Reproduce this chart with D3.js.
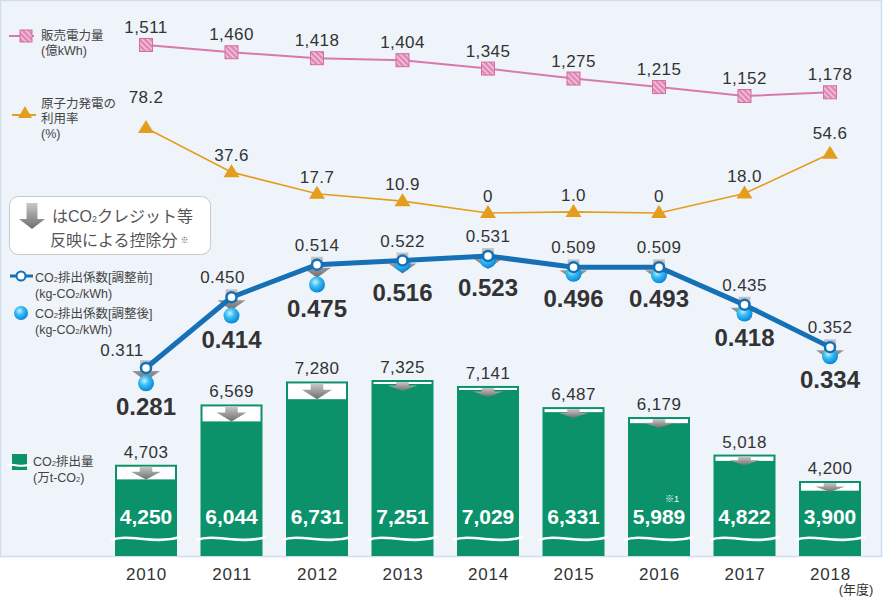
<!DOCTYPE html>
<html><head><meta charset="utf-8">
<script src="https://cdn.jsdelivr.net/npm/d3@7"></script>
<style>
body{margin:0;background:#fff;}
svg{display:block;}
text{font-family:"Liberation Sans","Noto Sans CJK JP",Arial,sans-serif;}
</style></head>
<body>
<svg id="c" width="889" height="597"></svg>
<script>
// ---- data ----
const years = ["2010","2011","2012","2013","2014","2015","2016","2017","2018"];
const sales = [1511,1460,1418,1404,1345,1275,1215,1152,1178];          // 販売電力量 (億kWh)
const nuclear = [78.2,37.6,17.7,10.9,0,1.0,0,18.0,54.6];               // 原子力発電の利用率 (%)
const nuclearLabels = ["78.2","37.6","17.7","10.9","0","1.0","0","18.0","54.6"];
const co2Before = [0.311,0.450,0.514,0.522,0.531,0.509,0.509,0.435,0.352]; // 調整前
const co2After  = [0.281,0.414,0.475,0.516,0.523,0.496,0.493,0.418,0.334]; // 調整後
const emisBefore = [4703,6569,7280,7325,7141,6487,6179,5018,4200];      // 排出量 調整前
const emisAfter  = [4250,6044,6731,7251,7029,6331,5989,4822,3900];      // 排出量 調整後

const svg = d3.select("#c");
const defs = svg.append("defs");

const gArrow = defs.append("linearGradient").attr("id","gArrow").attr("x1",0).attr("y1",0).attr("x2",0).attr("y2",1);
gArrow.append("stop").attr("offset","0%").attr("stop-color","#c8c8c8");
gArrow.append("stop").attr("offset","100%").attr("stop-color","#6e6e6e");
const gBlue = defs.append("radialGradient").attr("id","gBlue").attr("cx","40%").attr("cy","35%").attr("r","65%");
gBlue.append("stop").attr("offset","0%").attr("stop-color","#c9f1ff");
gBlue.append("stop").attr("offset","45%").attr("stop-color","#37bdf3");
gBlue.append("stop").attr("offset","100%").attr("stop-color","#0a86d8");
const pat = defs.append("pattern").attr("id","hatch").attr("patternUnits","userSpaceOnUse")
  .attr("width",4).attr("height",4).attr("patternTransform","rotate(-45)");
pat.append("rect").attr("width",4).attr("height",4).attr("fill","#e088b6");
pat.append("rect").attr("width",1.2).attr("height",4).attr("fill","#f6d3e6");

svg.append("rect").attr("x",0.5).attr("y",0.5).attr("width",881).attr("height",556)
  .attr("fill","#eff4fb").attr("stroke","#cfddef").attr("stroke-width",1.5);

const x = d3.scalePoint().domain(years).range([146,830]);
const ySales = d3.scaleLinear().domain([1152,1511]).range([96,45]);
const yNuc = d3.scaleLinear().domain([0,78.2]).range([213,128]);
const yCo2 = d3.scaleLinear().domain([0.311,0.531]).range([368,256]);
const yBar = d3.scaleLinear().domain([4200,7325]).range([481,380]);
const barBottom = 556, barW = 62;

const green = "#0b926a", pink = "#d77aab", orange = "#e59d1d", blue = "#1570b6", dark = "#333";

function sub(sel, str, small){
  const parts = str.split("₂");
  parts.forEach((p,i)=>{
    if(p) sel.append("tspan").text(p);
    if(i<parts.length-1) sel.append("tspan").attr("font-size", small||"60%").text("2");
  });
  return sel;
}
function arrow(g, cx, top, bottom, hw){
  const h = bottom - top;
  const headH = Math.min(h*0.6, 10);
  const sw = hw*0.42;
  g.append("path")
    .attr("d",`M${cx-sw},${top} L${cx+sw},${top} L${cx+sw},${bottom-headH} L${cx+hw},${bottom-headH} L${cx},${bottom} L${cx-hw},${bottom-headH} L${cx-sw},${bottom-headH} Z`)
    .attr("fill","url(#gArrow)");
}

// ---- bars ----
const bars = svg.append("g");
years.forEach((yr,i)=>{
  const cx = x(yr), x0 = cx-barW/2;
  const yt = yBar(emisBefore[i]), ya = yBar(emisAfter[i]);
  bars.append("rect").attr("x",x0).attr("y",yt).attr("width",barW).attr("height",barBottom-yt).attr("fill",green);
  bars.append("rect").attr("x",x0+2).attr("y",yt+2).attr("width",barW-4).attr("height",Math.max(ya-yt-2,2)).attr("fill","#fff");
  arrow(bars, cx, yt+2, Math.max(ya, yt+11), 15);
  bars.append("path").attr("d",`M${x0-4},540 C${x0+14},533 ${x0+38},545 ${x0+barW+4},537`)
    .attr("fill","none").attr("stroke","#fff").attr("stroke-width",2.6);
  bars.append("text").attr("x",cx).attr("y",yt-7).attr("text-anchor","middle").attr("font-size",17).attr("letter-spacing",0.4).attr("fill",dark)
    .text(d3.format(",")(emisBefore[i]));
  bars.append("text").attr("x",cx).attr("y",524).attr("text-anchor","middle").attr("font-size",21).attr("font-weight","bold").attr("fill","#fff")
    .text(d3.format(",")(emisAfter[i]));
});
svg.append("text").attr("x",x("2016")+13).attr("y",502).attr("text-anchor","middle").attr("font-size",9).attr("fill","#fff").text("※1");

// ---- year axis ----
const xAxis = svg.append("g").attr("transform","translate(0,556)")
  .call(d3.axisBottom(x).tickSize(0).tickPadding(10));
xAxis.select(".domain").remove();
xAxis.selectAll("text").attr("font-size",17).attr("letter-spacing",0.8).attr("fill",dark).attr("font-family","Liberation Sans, Arial, sans-serif").attr("dy","0.8em");
svg.append("text").attr("x",856).attr("y",594).attr("text-anchor","middle").attr("font-size",13).attr("fill",dark).text("(年度)");

// ---- sales line ----
const salesLine = d3.line().x((d,i)=>x(years[i])).y(d=>ySales(d));
svg.append("path").datum(sales).attr("d",salesLine).attr("fill","none").attr("stroke",pink).attr("stroke-width",2);
sales.forEach((v,i)=>{
  svg.append("rect").attr("x",x(years[i])-6.5).attr("y",ySales(v)-6.5).attr("width",13).attr("height",13)
    .attr("fill","url(#hatch)").attr("stroke","#d06fa0").attr("stroke-width",1);
  svg.append("text").attr("x",x(years[i])).attr("y",ySales(v)-12).attr("text-anchor","middle").attr("font-size",17).attr("letter-spacing",0.4).attr("fill",dark)
    .text(d3.format(",")(v));
});

// ---- nuclear line ----
const nucLine = d3.line().x((d,i)=>x(years[i])).y(d=>yNuc(d));
svg.append("path").datum(nuclear).attr("d",nucLine).attr("fill","none").attr("stroke",orange).attr("stroke-width",1.6);
nuclear.forEach((v,i)=>{
  const cx = x(years[i]), cy = yNuc(v);
  svg.append("path").attr("d",`M${cx},${cy-8} L${cx+8},${cy+5} L${cx-8},${cy+5} Z`).attr("fill",orange);
  const off = i===0 ? 25 : (v>=50 ? 15 : 11);
  svg.append("text").attr("x",cx).attr("y",cy-off).attr("text-anchor","middle").attr("font-size",17).attr("letter-spacing",0.4).attr("fill",dark)
    .text(nuclearLabels[i]);
});

// ---- CO2 coefficient ----
const co2 = svg.append("g");
co2Before.forEach((v,i)=>{
  const cx = x(years[i]), cy = yCo2(v);
  arrow(co2, cx, cy-8, cy+13, 14);
});
co2After.forEach((v,i)=>{
  co2.append("circle").attr("cx",x(years[i])).attr("cy",yCo2(v)).attr("r",8).attr("fill","url(#gBlue)");
});
const coLine = d3.line().x((d,i)=>x(years[i])).y(d=>yCo2(d));
co2.append("path").datum(co2Before).attr("d",coLine).attr("fill","none").attr("stroke",blue).attr("stroke-width",5).attr("stroke-linejoin","round");
co2Before.forEach((v,i)=>{
  const cx = x(years[i]), cy = yCo2(v);
  co2.append("circle").attr("cx",cx).attr("cy",cy).attr("r",5).attr("fill","#fff").attr("stroke",blue).attr("stroke-width",2.5);
  const first = i===0;
  co2.append("text").attr("x",first?cx-24:(i===1?cx-9:cx)).attr("y",first?cy-12:cy-14).attr("text-anchor","middle").attr("font-size",17).attr("letter-spacing",0.4).attr("fill",dark)
    .text(d3.format(".3f")(v));
});
co2After.forEach((v,i)=>{
  const cx = x(years[i]), cy = Math.max(yCo2(v), yCo2(co2Before[i])+8);
  co2.append("text").attr("x",cx).attr("y",cy+32).attr("text-anchor","middle").attr("font-size",24).attr("font-weight","bold").attr("fill",dark)
    .text(d3.format(".3f")(v));
});

// ---- legends ----
const lg = svg.append("g").attr("fill","#444");
lg.append("line").attr("x1",9).attr("x2",34).attr("y1",36).attr("y2",36).attr("stroke",pink).attr("stroke-width",2);
lg.append("rect").attr("x",20).attr("y",30).attr("width",12).attr("height",12).attr("fill","url(#hatch)").attr("stroke","#d06fa0");
lg.append("text").attr("x",41).attr("y",40).attr("font-size",12.5).text("販売電力量");
lg.append("text").attr("x",41).attr("y",55).attr("font-size",12.5).text("(億kWh)");
lg.append("line").attr("x1",12).attr("x2",36).attr("y1",115).attr("y2",115).attr("stroke",orange).attr("stroke-width",2);
lg.append("path").attr("d","M25,106 L32,118 L18,118 Z").attr("fill",orange);
lg.append("text").attr("x",41).attr("y",108).attr("font-size",12.5).text("原子力発電の");
lg.append("text").attr("x",41).attr("y",123).attr("font-size",12.5).text("利用率");
lg.append("text").attr("x",41).attr("y",138).attr("font-size",12.5).text("(%)");
lg.append("rect").attr("x",9.5).attr("y",196.5).attr("width",201).attr("height",58).attr("rx",9).attr("fill","#fff").attr("stroke","#c9c9c9");
arrow(lg, 32, 203, 229, 13);
const t1 = lg.append("text").attr("x",52).attr("y",222).attr("font-size",16).attr("fill","#555");
sub(t1,"はCO₂クレジット等","55%");
const t2 = lg.append("text").attr("x",50).attr("y",246).attr("font-size",16).attr("fill","#555");
t2.append("tspan").text("反映による控除分");
t2.append("tspan").attr("font-size",8).attr("dx",3).attr("dy",-3).text("※");
lg.append("line").attr("x1",10).attr("x2",33).attr("y1",276).attr("y2",276).attr("stroke",blue).attr("stroke-width",3);
lg.append("circle").attr("cx",21).attr("cy",276).attr("r",4.5).attr("fill","#fff").attr("stroke",blue).attr("stroke-width",2);
sub(lg.append("text").attr("x",35).attr("y",282).attr("font-size",12.5),"CO₂排出係数[調整前]");
sub(lg.append("text").attr("x",35).attr("y",298).attr("font-size",12.5),"(kg-CO₂/kWh)");
lg.append("circle").attr("cx",21).attr("cy",313).attr("r",7).attr("fill","url(#gBlue)");
sub(lg.append("text").attr("x",35).attr("y",318).attr("font-size",12.5),"CO₂排出係数[調整後]");
sub(lg.append("text").attr("x",35).attr("y",334).attr("font-size",12.5),"(kg-CO₂/kWh)");
lg.append("rect").attr("x",12).attr("y",454).attr("width",15).attr("height",16).attr("fill",green);
lg.append("path").attr("d","M7,466 C12,462 20,469 31,464").attr("fill","none").attr("stroke","#fff").attr("stroke-width",2);
sub(lg.append("text").attr("x",33).attr("y",466).attr("font-size",12.5),"CO₂排出量");
sub(lg.append("text").attr("x",33).attr("y",482).attr("font-size",12.5),"(万t-CO₂)");
</script>
</body></html>
